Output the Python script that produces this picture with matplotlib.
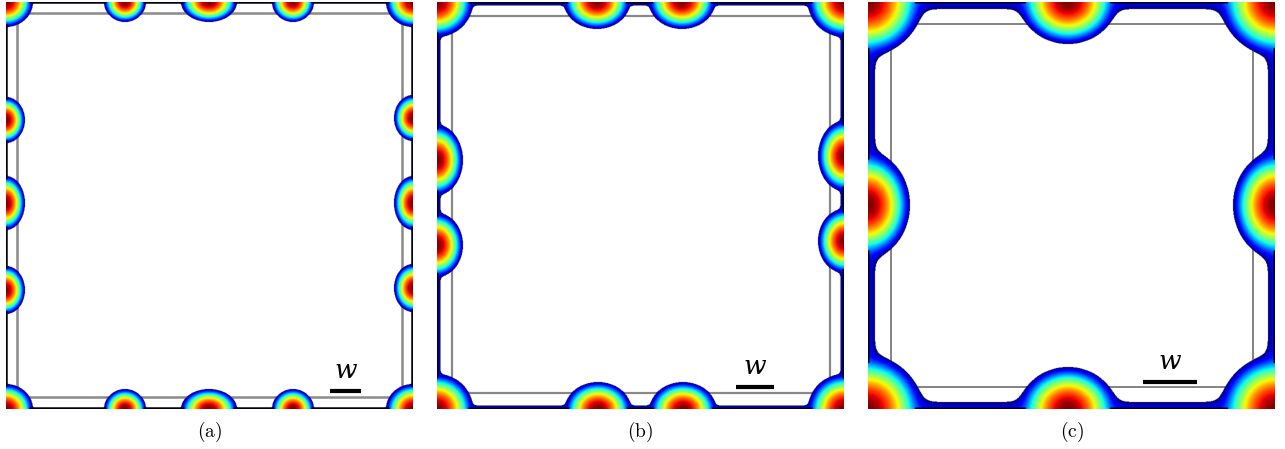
import numpy as np
import matplotlib
matplotlib.use("Agg")
import matplotlib.pyplot as plt
from matplotlib.colors import ListedColormap

plt.rcParams['mathtext.fontset'] = 'cm'

FIG_W, FIG_H = 1285, 449
SIZE = 407                      # side of each square panel, in pixels

# ---- panel (a): many small hot spots -------------------------------------
A_CORNER = [27, 25]             # corner spot radii (x, y)
A_TOP_X = [119, 203, 287]
A_TOP_HALF = [21, 28, 21]
A_BOTTOM_X = [119, 203, 287]
A_BOTTOM_HALF = [21, 28, 21]
A_EDGE_DEPTH = 20
A_LEFT_Y = [118, 201, 288]
A_LEFT_HALF = [23, 27, 24]
A_RIGHT_Y = [116, 201, 286]
A_RIGHT_HALF = [23, 27, 24]
A_SIDE_DEPTH = 19
A_BAND = 1.5
A_RECT = [11, 11, 396, 395]     # x0, y0, x1, y1 of the inner outline
A_BAR = [324, 355, 389]         # x0, x1, y of the scale bar

# ---- panel (b) ------------------------------------------------------------
B_CORNER = [36, 35]
B_TOP_X = [160, 245]
B_TOP_HALF = [33, 33]
B_BOTTOM_X = [161, 246]
B_BOTTOM_HALF = [33, 33]
B_EDGE_DEPTH = 27
B_LEFT_Y = [158, 243]
B_LEFT_HALF = [35, 32]
B_RIGHT_Y = [154, 239]
B_RIGHT_HALF = [35, 32]
B_SIDE_DEPTH = 26
B_BAND = 3.5
B_RECT = [15, 14, 393, 391]
B_BAR = [299, 337, 385]

# ---- panel (c): few large hot spots ---------------------------------------
C_CORNER = [54, 53]
C_TOP_X = [200]
C_TOP_HALF = [48]
C_BOTTOM_X = [200]
C_BOTTOM_HALF = [48]
C_EDGE_DEPTH = 42
C_LEFT_Y = [203]
C_LEFT_HALF = [52]
C_RIGHT_Y = [203]
C_RIGHT_HALF = [52]
C_SIDE_DEPTH = 42
C_BAND = 7
C_RECT = [23, 22, 385, 385]
C_BAR = [275, 329, 380]

PANEL_LEFT = [6, 437, 868]
PANEL_TOP = 2
CAPTIONS = ['(a)', '(b)', '(c)']


def spots(corner, top_x, top_h, bot_x, bot_h, edge_d,
          left_y, left_h, right_y, right_h, side_d):
    s = SIZE
    out = [(0, 0, *corner), (s, 0, *corner), (0, s, *corner), (s, s, *corner)]
    out += [(x, 0, h, edge_d) for x, h in zip(top_x, top_h)]
    out += [(x, s, h, edge_d) for x, h in zip(bot_x, bot_h)]
    out += [(0, y, side_d, h) for y, h in zip(left_y, left_h)]
    out += [(s, y, side_d, h) for y, h in zip(right_y, right_h)]
    return out


def profile(r):
    # cosine hump inside the spot, continued linearly (negative) outside it
    return np.where(r < 1, np.cos(0.5 * np.pi * np.minimum(r, 1)),
                    -0.5 * np.pi * (r - 1))


def temperature(spot_list, band, k):
    n = SIZE * 2
    c = (np.arange(n) + 0.5) * SIZE / n
    X, Y = np.meshgrid(c, c)
    terms = []
    for cx, cy, rx, ry in spot_list:
        r = np.sqrt(((X - cx) / rx) ** 2 + ((Y - cy) / ry) ** 2)
        terms.append(profile(r))
    spot_max = np.max(terms, axis=0)
    d = np.minimum.reduce([X, SIZE - X, Y, SIZE - Y])
    band_v = 0.12 * (1.0 - d / band)
    terms.append(band_v)
    stack = np.array(terms) / k
    m = stack.max(axis=0)
    v = k * (m + np.log(np.exp(stack - m).sum(axis=0)))
    edge = (d < 1.3) & (spot_max < 0.2)
    return np.clip(v, 0, 1), v > 0, edge


fig = plt.figure(figsize=(FIG_W / 100, FIG_H / 100), dpi=100)

panels = [
    (spots(A_CORNER, A_TOP_X, A_TOP_HALF, A_BOTTOM_X, A_BOTTOM_HALF, A_EDGE_DEPTH,
           A_LEFT_Y, A_LEFT_HALF, A_RIGHT_Y, A_RIGHT_HALF, A_SIDE_DEPTH),
     A_BAND, 0.03, A_RECT, A_BAR, 1.8, '#8a8a8a'),
    (spots(B_CORNER, B_TOP_X, B_TOP_HALF, B_BOTTOM_X, B_BOTTOM_HALF, B_EDGE_DEPTH,
           B_LEFT_Y, B_LEFT_HALF, B_RIGHT_Y, B_RIGHT_HALF, B_SIDE_DEPTH),
     B_BAND, 0.07, B_RECT, B_BAR, 1.6, '#888888'),
    (spots(C_CORNER, C_TOP_X, C_TOP_HALF, C_BOTTOM_X, C_BOTTOM_HALF, C_EDGE_DEPTH,
           C_LEFT_Y, C_LEFT_HALF, C_RIGHT_Y, C_RIGHT_HALF, C_SIDE_DEPTH),
     C_BAND, 0.13, C_RECT, C_BAR, 1.2, '#6e6e6e'),
]

for i, (spot_list, band, k, rect, bar, rect_lw, rect_col) in enumerate(panels):
    left = PANEL_LEFT[i]
    ax = fig.add_axes([left / FIG_W, 1 - (PANEL_TOP + SIZE) / FIG_H,
                       SIZE / FIG_W, SIZE / FIG_H])
    ax.set_xlim(0, SIZE)
    ax.set_ylim(SIZE, 0)
    ax.axis('off')

    x0, y0, x1, y1 = rect
    ax.add_patch(plt.Rectangle((x0, y0), x1 - x0, y1 - y0, fill=False,
                               lw=rect_lw, ec=rect_col, zorder=1))

    v, inside, edge = temperature(spot_list, band, k)
    ax.imshow(np.ma.masked_where(~inside, v), cmap='jet', vmin=0, vmax=1,
              extent=(0, SIZE, SIZE, 0), interpolation='antialiased', zorder=2)
    ax.imshow(np.ma.masked_where(~edge, np.ones_like(v)),
              cmap=ListedColormap(['#000010']), vmin=0, vmax=1,
              extent=(0, SIZE, SIZE, 0), interpolation='antialiased', zorder=3)

    bx0, bx1, by = bar
    ax.plot([bx0, bx1], [by, by], color='black', lw=3, solid_capstyle='butt',
            zorder=4)
    ax.text((bx0 + bx1) / 2, by - 8, 'w', family='DejaVu Serif', style='italic',
            fontsize=19, ha='center', va='bottom', zorder=4)

    fig.text((left + SIZE / 2) / FIG_W, 1 - 432 / FIG_H,
             r'$\mathrm{' + CAPTIONS[i] + '}$', fontsize=14,
             ha='center', va='center')

fig.savefig('out.png', dpi=100)
